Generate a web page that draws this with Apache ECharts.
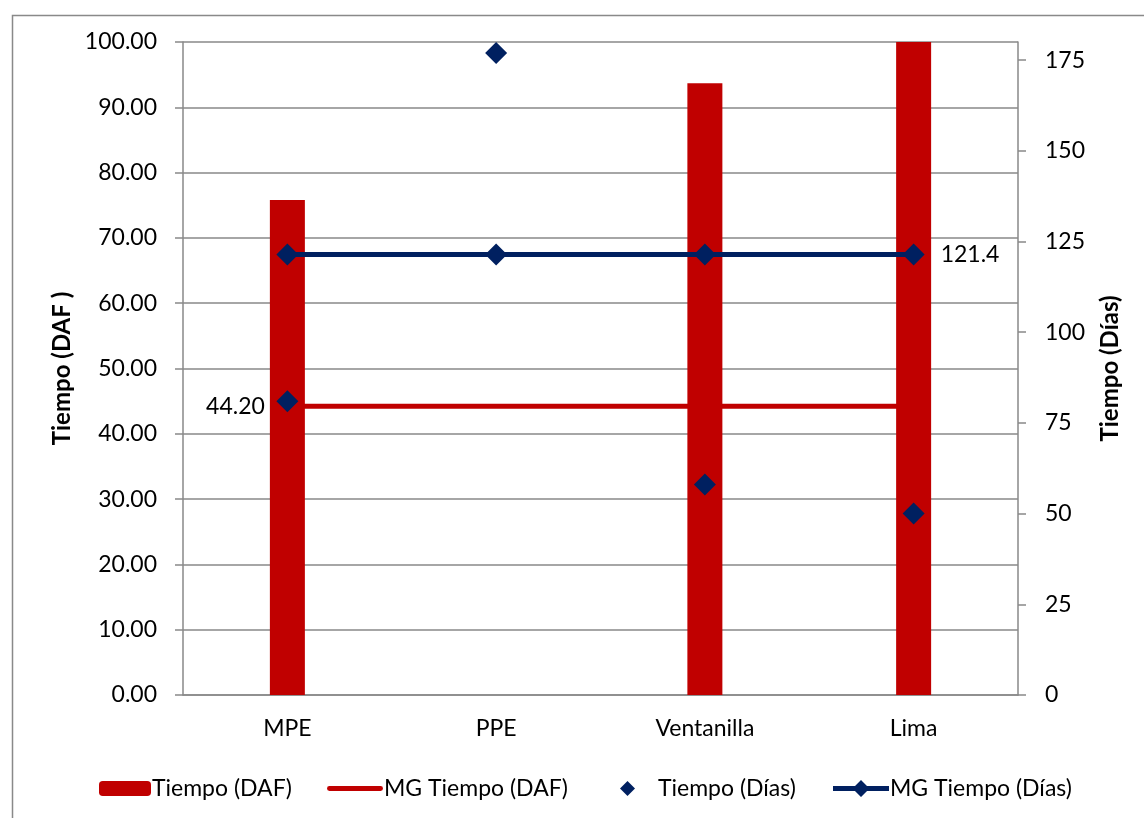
<!DOCTYPE html>
<html>
<head>
<meta charset="utf-8">
<script src="https://cdn.jsdelivr.net/npm/echarts@6/dist/echarts.min.js"></script>
<style>html,body{margin:0;padding:0;background:#fff}#c{width:1144px;height:818px}</style>
</head>
<body>
<div id="c"></div>
<script>
const categories = ['MPE', 'PPE', 'Ventanilla', 'Lima'];
const tiempoDAF = [75.8, null, 93.7, 100];
const mgTiempoDAF = [44.20, 44.20, 44.20, 44.20];
const tiempoDias = [81, 177, 58, 50];
const mgTiempoDias = [121.4, 121.4, 121.4, 121.4];

const FONT = 'Lato';
const RED = '#C00000';
const NAVY = '#002060';
const GRAY = '#898989';

const chart = echarts.init(document.getElementById('c'), null, {renderer: 'canvas'});
const txt = {fontFamily: FONT, fontSize: 23, color: '#000'};
const legText = (pl) => Object.assign({}, txt, {padding: [0, 0, 0, pl]});

chart.setOption({
  animation: false,
  backgroundColor: '#fff',
  graphic: [{
    type: 'rect', left: 10, top: 13, shape: {width: 1200, height: 900},
    style: {fill: 'none', stroke: GRAY, lineWidth: 1.5}, silent: true, z: -1
  }],
  grid: {left: 183, right: 126, top: 42, bottom: 123, containLabel: false},
  legend: [
    {data: ['Tiempo (DAF)'], left: 94, top: 772, itemWidth: 52, itemHeight: 15, textStyle: legText(-4)},
    {data: [{name: 'MG Tiempo (DAF)', icon: 'path://M2,0 L54,0 A2.5,2.5 0 0 1 54,5 L2,5 A2.5,2.5 0 0 1 2,0 Z'}],
     left: 322, top: 772, itemWidth: 56, itemHeight: 5, textStyle: legText(-4)},
    {data: ['Tiempo (Días)'], left: 615, top: 772, itemWidth: 15, itemHeight: 15, textStyle: legText(18)},
    {data: [{name: 'MG Tiempo (Días)', icon: 'path://M0,7 L56,7 L56,12 L0,12 Z M28,1 L36.5,9.5 L28,18 L19.5,9.5 Z'}],
     left: 828, top: 772, itemWidth: 56, itemHeight: 19, textStyle: legText(-4)}
  ],
  xAxis: {
    type: 'category', data: categories,
    axisLine: {lineStyle: {color: GRAY, width: 1.5}},
    axisTick: {show: false},
    axisLabel: Object.assign({}, txt, {margin: 22})
  },
  yAxis: [{
    type: 'value', min: 0, max: 100, interval: 10, position: 'left',
    name: 'Tiempo (DAF )', nameLocation: 'middle', nameGap: 109, nameRotate: 90,
    nameTextStyle: {fontFamily: FONT, fontSize: 24, fontWeight: 'bold', color: '#000'},
    axisLine: {show: true, lineStyle: {color: GRAY, width: 1.5}},
    axisTick: {show: true, length: 8, lineStyle: {color: GRAY, width: 1.5}},
    axisLabel: Object.assign({}, txt, {margin: 26, formatter: v => v.toFixed(2)}),
    splitLine: {show: true, lineStyle: {color: GRAY, width: 1.5}}
  }, {
    type: 'value', min: 0, max: 180, interval: 25, position: 'right',
    name: 'Tiempo (Días)', nameLocation: 'middle', nameGap: 80, nameRotate: 90,
    nameTextStyle: {fontFamily: FONT, fontSize: 24, fontWeight: 'bold', color: '#000'},
    axisLine: {show: true, lineStyle: {color: GRAY, width: 1.5}},
    axisTick: {show: true, length: 8, lineStyle: {color: GRAY, width: 1.5}},
    axisLabel: Object.assign({}, txt, {margin: 27, showMaxLabel: false}),
    splitLine: {show: false}
  }],
  series: [{
    name: 'Tiempo (DAF)', type: 'bar', yAxisIndex: 0, data: tiempoDAF,
    barWidth: 35, itemStyle: {color: RED}, z: 1
  }, {
    name: 'MG Tiempo (DAF)', type: 'line', yAxisIndex: 0,
    data: mgTiempoDAF.map((v, i) => i === 0 ? {value: v, label: {show: true, position: 'left', distance: 22, formatter: p => p.value.toFixed(2)}} : v),
    symbol: 'circle', symbolSize: 1, showSymbol: true,
    lineStyle: {color: RED, width: 5}, itemStyle: {color: RED},
    label: Object.assign({}, txt, {show: false}), z: 2
  }, {
    name: 'Tiempo (Días)', type: 'scatter', yAxisIndex: 1, data: tiempoDias,
    symbol: 'diamond', symbolSize: 22, itemStyle: {color: NAVY, opacity: 1}, z: 4
  }, {
    name: 'MG Tiempo (Días)', type: 'line', yAxisIndex: 1,
    data: mgTiempoDias.map((v, i) => i === 3 ? {value: v, label: {show: true, position: 'right', distance: 16, formatter: p => p.value.toFixed(1)}} : v),
    symbol: 'diamond', symbolSize: 22, showSymbol: true,
    lineStyle: {color: NAVY, width: 5}, itemStyle: {color: NAVY},
    label: Object.assign({}, txt, {show: false}), z: 3
  }]
});
</script>
</body>
</html>
